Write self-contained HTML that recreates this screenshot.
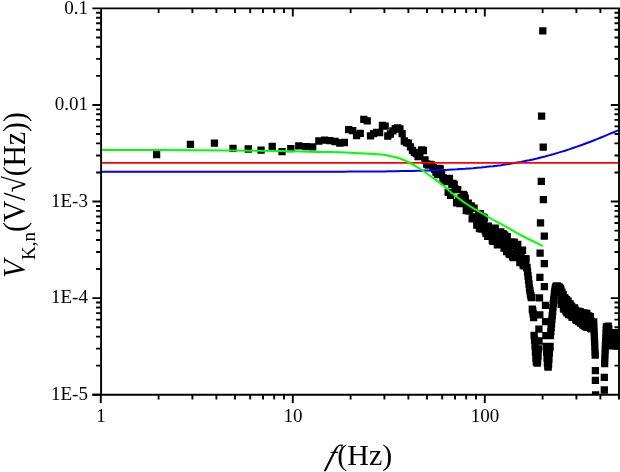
<!DOCTYPE html>
<html><head><meta charset="utf-8"><title>Noise spectrum</title>
<style>
html,body{margin:0;padding:0;background:#fff}
svg{display:block}
text{font-family:"Liberation Serif","Times New Roman",serif;fill:#000}
</style></head>
<body>
<svg width="620" height="472" viewBox="0 0 620 472">
<rect width="620" height="472" fill="#fff"/>
<defs><clipPath id="c"><rect x="101.1" y="8.35" width="518.9" height="386.45"/></clipPath></defs>
<g clip-path="url(#c)">
<path d="M152.97 150.85h7.3v7.3h-7.3zM186.78 140.75h7.3v7.3h-7.3zM210.77 139.45h7.3v7.3h-7.3zM229.37 144.65h7.3v7.3h-7.3zM244.58 145.35h7.3v7.3h-7.3zM257.43 146.45h7.3v7.3h-7.3zM268.57 142.85h7.3v7.3h-7.3zM278.39 147.95h7.3v7.3h-7.3zM287.17 144.95h7.3v7.3h-7.3zM295.12 142.15h7.3v7.3h-7.3zM302.38 143.05h7.3v7.3h-7.3zM309.05 143.15h7.3v7.3h-7.3zM315.23 137.35h7.3v7.3h-7.3zM320.98 136.45h7.3v7.3h-7.3zM326.36 136.95h7.3v7.3h-7.3zM331.42 137.85h7.3v7.3h-7.3zM336.18 139.35h7.3v7.3h-7.3zM340.69 138.85h7.3v7.3h-7.3zM344.97 126.05h7.3v7.3h-7.3zM349.04 126.95h7.3v7.3h-7.3zM352.92 131.85h7.3v7.3h-7.3zM356.62 129.75h7.3v7.3h-7.3zM360.17 115.75h7.3v7.3h-7.3zM363.58 117.25h7.3v7.3h-7.3zM366.85 132.15h7.3v7.3h-7.3zM369.99 130.05h7.3v7.3h-7.3zM373.03 128.85h7.3v7.3h-7.3zM375.95 128.85h7.3v7.3h-7.3zM378.78 121.65h7.3v7.3h-7.3zM381.51 122.55h7.3v7.3h-7.3zM384.16 132.35h7.3v7.3h-7.3zM386.73 130.35h7.3v7.3h-7.3zM389.22 127.15h7.3v7.3h-7.3zM391.63 124.95h7.3v7.3h-7.3zM393.98 124.35h7.3v7.3h-7.3zM396.27 125.35h7.3v7.3h-7.3zM398.49 130.05h7.3v7.3h-7.3zM400.66 137.35h7.3v7.3h-7.3zM402.77 138.95h7.3v7.3h-7.3zM404.83 139.55h7.3v7.3h-7.3zM406.84 143.15h7.3v7.3h-7.3zM408.80 146.65h7.3v7.3h-7.3zM410.72 148.65h7.3v7.3h-7.3zM412.59 149.85h7.3v7.3h-7.3zM414.42 152.85h7.3v7.3h-7.3zM416.22 152.35h7.3v7.3h-7.3zM417.97 146.35h7.3v7.3h-7.3zM419.69 146.85h7.3v7.3h-7.3zM421.37 156.35h7.3v7.3h-7.3zM423.03 160.35h7.3v7.3h-7.3zM424.65 161.35h7.3v7.3h-7.3zM426.23 160.85h7.3v7.3h-7.3zM427.79 161.35h7.3v7.3h-7.3zM429.32 163.85h7.3v7.3h-7.3zM430.82 165.35h7.3v7.3h-7.3zM432.30 168.35h7.3v7.3h-7.3zM433.75 170.85h7.3v7.3h-7.3zM435.18 164.85h7.3v7.3h-7.3zM436.58 165.15h7.3v7.3h-7.3zM437.96 170.35h7.3v7.3h-7.3zM439.31 174.35h7.3v7.3h-7.3zM440.65 177.35h7.3v7.3h-7.3zM441.96 177.85h7.3v7.3h-7.3zM443.25 177.17h7.3v7.3h-7.3zM444.52 188.69h7.3v7.3h-7.3zM445.78 174.66h7.3v7.3h-7.3zM447.01 191.69h7.3v7.3h-7.3zM448.23 180.67h7.3v7.3h-7.3zM449.43 179.79h7.3v7.3h-7.3zM450.61 180.98h7.3v7.3h-7.3zM451.78 185.57h7.3v7.3h-7.3zM452.93 199.12h7.3v7.3h-7.3zM454.06 186.07h7.3v7.3h-7.3zM455.18 197.05h7.3v7.3h-7.3zM456.29 199.99h7.3v7.3h-7.3zM457.38 193.90h7.3v7.3h-7.3zM458.45 199.66h7.3v7.3h-7.3zM459.52 190.80h7.3v7.3h-7.3zM460.57 191.80h7.3v7.3h-7.3zM461.60 194.41h7.3v7.3h-7.3zM462.62 206.96h7.3v7.3h-7.3zM463.64 201.32h7.3v7.3h-7.3zM464.63 199.47h7.3v7.3h-7.3zM465.62 207.44h7.3v7.3h-7.3zM466.60 204.88h7.3v7.3h-7.3zM467.56 202.22h7.3v7.3h-7.3zM468.51 215.13h7.3v7.3h-7.3zM469.46 214.38h7.3v7.3h-7.3zM470.39 204.41h7.3v7.3h-7.3zM471.31 213.50h7.3v7.3h-7.3zM472.22 213.26h7.3v7.3h-7.3zM473.12 221.36h7.3v7.3h-7.3zM474.01 220.16h7.3v7.3h-7.3zM474.90 210.55h7.3v7.3h-7.3zM475.77 224.93h7.3v7.3h-7.3zM476.63 210.00h7.3v7.3h-7.3zM477.49 216.53h7.3v7.3h-7.3zM478.33 225.37h7.3v7.3h-7.3zM479.17 213.35h7.3v7.3h-7.3zM480.00 221.09h7.3v7.3h-7.3zM480.82 214.47h7.3v7.3h-7.3zM481.64 227.09h7.3v7.3h-7.3zM482.44 229.75h7.3v7.3h-7.3zM483.24 226.67h7.3v7.3h-7.3zM484.03 232.80h7.3v7.3h-7.3zM484.81 222.52h7.3v7.3h-7.3zM485.59 231.80h7.3v7.3h-7.3zM486.36 230.51h7.3v7.3h-7.3zM487.12 230.73h7.3v7.3h-7.3zM487.87 228.40h7.3v7.3h-7.3zM488.62 236.46h7.3v7.3h-7.3zM489.36 237.82h7.3v7.3h-7.3zM490.10 230.36h7.3v7.3h-7.3zM490.83 235.19h7.3v7.3h-7.3zM491.55 224.58h7.3v7.3h-7.3zM492.26 236.97h7.3v7.3h-7.3zM492.97 236.37h7.3v7.3h-7.3zM493.68 241.09h7.3v7.3h-7.3zM494.38 240.44h7.3v7.3h-7.3zM495.07 229.66h7.3v7.3h-7.3zM495.75 232.24h7.3v7.3h-7.3zM496.43 239.31h7.3v7.3h-7.3zM497.11 228.20h7.3v7.3h-7.3zM497.78 235.51h7.3v7.3h-7.3zM498.44 230.17h7.3v7.3h-7.3zM499.10 230.09h7.3v7.3h-7.3zM499.76 230.15h7.3v7.3h-7.3zM500.41 244.45h7.3v7.3h-7.3zM501.05 231.56h7.3v7.3h-7.3zM501.69 233.68h7.3v7.3h-7.3zM502.32 237.21h7.3v7.3h-7.3zM502.95 247.98h7.3v7.3h-7.3zM503.58 232.92h7.3v7.3h-7.3zM504.20 240.07h7.3v7.3h-7.3zM504.81 243.16h7.3v7.3h-7.3zM505.42 250.18h7.3v7.3h-7.3zM506.03 249.92h7.3v7.3h-7.3zM506.63 250.97h7.3v7.3h-7.3zM507.23 238.32h7.3v7.3h-7.3zM507.82 241.98h7.3v7.3h-7.3zM508.41 241.04h7.3v7.3h-7.3zM509.00 252.98h7.3v7.3h-7.3zM509.58 253.89h7.3v7.3h-7.3zM510.16 238.56h7.3v7.3h-7.3zM510.73 239.34h7.3v7.3h-7.3zM511.30 240.67h7.3v7.3h-7.3zM511.86 241.15h7.3v7.3h-7.3zM512.42 247.39h7.3v7.3h-7.3zM512.98 250.52h7.3v7.3h-7.3zM513.54 243.02h7.3v7.3h-7.3zM514.09 240.79h7.3v7.3h-7.3zM514.63 247.42h7.3v7.3h-7.3zM515.18 246.63h7.3v7.3h-7.3zM515.72 252.07h7.3v7.3h-7.3zM516.25 258.94h7.3v7.3h-7.3zM516.79 255.94h7.3v7.3h-7.3zM517.31 252.39h7.3v7.3h-7.3zM517.84 255.44h7.3v7.3h-7.3zM518.36 257.25h7.3v7.3h-7.3zM518.88 246.58h7.3v7.3h-7.3zM519.40 261.40h7.3v7.3h-7.3zM519.91 260.58h7.3v7.3h-7.3zM520.42 262.11h7.3v7.3h-7.3zM520.93 261.77h7.3v7.3h-7.3zM521.43 254.95h7.3v7.3h-7.3zM521.93 256.78h7.3v7.3h-7.3zM522.43 255.19h7.3v7.3h-7.3zM522.93 263.43h7.3v7.3h-7.3zM523.42 264.35h7.3v7.3h-7.3zM523.91 268.35h7.3v7.3h-7.3zM524.39 272.35h7.3v7.3h-7.3zM524.88 276.35h7.3v7.3h-7.3zM525.36 280.35h7.3v7.3h-7.3zM525.84 284.35h7.3v7.3h-7.3zM526.31 287.35h7.3v7.3h-7.3zM526.78 290.35h7.3v7.3h-7.3zM527.25 292.35h7.3v7.3h-7.3zM527.72 293.85h7.3v7.3h-7.3zM528.18 293.85h7.3v7.3h-7.3zM528.65 305.55h7.3v7.3h-7.3zM529.11 307.35h7.3v7.3h-7.3zM529.56 310.35h7.3v7.3h-7.3zM530.02 313.85h7.3v7.3h-7.3zM530.47 331.85h7.3v7.3h-7.3zM530.92 336.35h7.3v7.3h-7.3zM531.37 342.35h7.3v7.3h-7.3zM531.81 348.35h7.3v7.3h-7.3zM532.25 354.35h7.3v7.3h-7.3zM532.69 358.35h7.3v7.3h-7.3zM533.13 358.35h7.3v7.3h-7.3zM533.57 359.35h7.3v7.3h-7.3zM534.00 357.35h7.3v7.3h-7.3zM534.43 352.35h7.3v7.3h-7.3zM534.86 345.35h7.3v7.3h-7.3zM535.29 337.35h7.3v7.3h-7.3zM539.15 27.15h7.3v7.3h-7.3zM537.95 112.55h7.3v7.3h-7.3zM537.65 177.75h7.3v7.3h-7.3zM536.85 219.15h7.3v7.3h-7.3zM536.45 249.55h7.3v7.3h-7.3zM536.25 273.75h7.3v7.3h-7.3zM535.85 294.25h7.3v7.3h-7.3zM536.15 311.15h7.3v7.3h-7.3zM535.25 325.55h7.3v7.3h-7.3zM539.55 143.55h7.3v7.3h-7.3zM539.75 196.05h7.3v7.3h-7.3zM540.65 232.45h7.3v7.3h-7.3zM540.65 260.05h7.3v7.3h-7.3zM540.75 283.05h7.3v7.3h-7.3zM541.85 301.65h7.3v7.3h-7.3zM541.95 318.05h7.3v7.3h-7.3zM542.25 331.95h7.3v7.3h-7.3zM542.61 342.85h7.3v7.3h-7.3zM543.00 348.35h7.3v7.3h-7.3zM543.39 354.35h7.3v7.3h-7.3zM543.77 359.35h7.3v7.3h-7.3zM544.16 362.85h7.3v7.3h-7.3zM544.54 363.35h7.3v7.3h-7.3zM544.92 360.35h7.3v7.3h-7.3zM545.30 355.35h7.3v7.3h-7.3zM545.67 349.35h7.3v7.3h-7.3zM546.05 344.35h7.3v7.3h-7.3zM546.42 342.85h7.3v7.3h-7.3zM546.79 331.85h7.3v7.3h-7.3zM547.16 327.85h7.3v7.3h-7.3zM547.53 323.85h7.3v7.3h-7.3zM547.90 319.85h7.3v7.3h-7.3zM548.26 315.85h7.3v7.3h-7.3zM548.62 311.85h7.3v7.3h-7.3zM548.99 307.85h7.3v7.3h-7.3zM549.35 303.85h7.3v7.3h-7.3zM549.70 299.85h7.3v7.3h-7.3zM550.06 296.35h7.3v7.3h-7.3zM550.42 293.35h7.3v7.3h-7.3zM550.77 290.35h7.3v7.3h-7.3zM551.12 287.85h7.3v7.3h-7.3zM551.48 285.85h7.3v7.3h-7.3zM551.82 284.35h7.3v7.3h-7.3zM552.17 283.35h7.3v7.3h-7.3zM552.52 282.85h7.3v7.3h-7.3zM552.86 282.35h7.3v7.3h-7.3zM553.21 282.35h7.3v7.3h-7.3zM553.55 282.35h7.3v7.3h-7.3zM553.89 282.73h7.3v7.3h-7.3zM554.23 282.92h7.3v7.3h-7.3zM554.57 284.23h7.3v7.3h-7.3zM554.91 283.95h7.3v7.3h-7.3zM555.24 286.79h7.3v7.3h-7.3zM555.58 283.56h7.3v7.3h-7.3zM555.91 283.63h7.3v7.3h-7.3zM556.24 284.64h7.3v7.3h-7.3zM556.57 284.70h7.3v7.3h-7.3zM556.90 289.46h7.3v7.3h-7.3zM557.23 285.72h7.3v7.3h-7.3zM557.55 300.70h7.3v7.3h-7.3zM557.88 297.01h7.3v7.3h-7.3zM558.20 288.52h7.3v7.3h-7.3zM558.53 290.57h7.3v7.3h-7.3zM558.85 292.93h7.3v7.3h-7.3zM559.17 293.90h7.3v7.3h-7.3zM559.49 290.95h7.3v7.3h-7.3zM559.80 304.12h7.3v7.3h-7.3zM560.12 305.38h7.3v7.3h-7.3zM560.44 298.44h7.3v7.3h-7.3zM560.75 299.40h7.3v7.3h-7.3zM561.06 293.98h7.3v7.3h-7.3zM561.37 294.71h7.3v7.3h-7.3zM561.68 298.10h7.3v7.3h-7.3zM561.99 297.11h7.3v7.3h-7.3zM562.30 307.38h7.3v7.3h-7.3zM562.61 296.40h7.3v7.3h-7.3zM562.92 295.90h7.3v7.3h-7.3zM563.22 309.14h7.3v7.3h-7.3zM563.52 303.58h7.3v7.3h-7.3zM563.83 297.46h7.3v7.3h-7.3zM564.13 304.48h7.3v7.3h-7.3zM564.43 297.39h7.3v7.3h-7.3zM564.73 304.77h7.3v7.3h-7.3zM565.03 311.01h7.3v7.3h-7.3zM565.32 310.73h7.3v7.3h-7.3zM565.62 308.86h7.3v7.3h-7.3zM565.92 300.91h7.3v7.3h-7.3zM566.21 303.00h7.3v7.3h-7.3zM566.50 300.30h7.3v7.3h-7.3zM566.79 311.03h7.3v7.3h-7.3zM567.09 307.08h7.3v7.3h-7.3zM567.38 311.50h7.3v7.3h-7.3zM567.66 303.78h7.3v7.3h-7.3zM567.95 302.51h7.3v7.3h-7.3zM568.24 312.42h7.3v7.3h-7.3zM568.53 313.61h7.3v7.3h-7.3zM568.81 313.16h7.3v7.3h-7.3zM569.10 312.90h7.3v7.3h-7.3zM569.38 313.20h7.3v7.3h-7.3zM569.66 312.49h7.3v7.3h-7.3zM569.94 304.69h7.3v7.3h-7.3zM570.22 309.43h7.3v7.3h-7.3zM570.50 307.01h7.3v7.3h-7.3zM570.78 304.32h7.3v7.3h-7.3zM571.06 304.64h7.3v7.3h-7.3zM571.33 306.79h7.3v7.3h-7.3zM571.61 306.72h7.3v7.3h-7.3zM571.88 313.42h7.3v7.3h-7.3zM572.16 315.83h7.3v7.3h-7.3zM572.43 309.95h7.3v7.3h-7.3zM572.70 316.20h7.3v7.3h-7.3zM572.97 316.51h7.3v7.3h-7.3zM573.24 316.67h7.3v7.3h-7.3zM573.51 309.33h7.3v7.3h-7.3zM573.78 307.56h7.3v7.3h-7.3zM574.05 307.79h7.3v7.3h-7.3zM574.32 307.62h7.3v7.3h-7.3zM574.58 307.86h7.3v7.3h-7.3zM574.85 314.55h7.3v7.3h-7.3zM575.11 317.91h7.3v7.3h-7.3zM575.38 317.70h7.3v7.3h-7.3zM575.64 312.61h7.3v7.3h-7.3zM575.90 315.76h7.3v7.3h-7.3zM576.16 317.91h7.3v7.3h-7.3zM576.42 307.97h7.3v7.3h-7.3zM576.68 316.40h7.3v7.3h-7.3zM576.94 319.34h7.3v7.3h-7.3zM577.20 318.43h7.3v7.3h-7.3zM577.45 318.20h7.3v7.3h-7.3zM577.71 313.67h7.3v7.3h-7.3zM577.97 309.04h7.3v7.3h-7.3zM578.22 319.19h7.3v7.3h-7.3zM578.47 311.32h7.3v7.3h-7.3zM578.73 319.67h7.3v7.3h-7.3zM578.98 321.02h7.3v7.3h-7.3zM579.23 312.74h7.3v7.3h-7.3zM579.48 312.95h7.3v7.3h-7.3zM579.73 321.49h7.3v7.3h-7.3zM579.98 319.44h7.3v7.3h-7.3zM580.23 309.53h7.3v7.3h-7.3zM580.48 309.19h7.3v7.3h-7.3zM580.72 309.46h7.3v7.3h-7.3zM580.97 322.17h7.3v7.3h-7.3zM581.22 321.41h7.3v7.3h-7.3zM581.46 309.63h7.3v7.3h-7.3zM581.71 321.90h7.3v7.3h-7.3zM581.95 322.99h7.3v7.3h-7.3zM582.19 319.48h7.3v7.3h-7.3zM582.43 313.22h7.3v7.3h-7.3zM582.68 317.49h7.3v7.3h-7.3zM582.92 310.30h7.3v7.3h-7.3zM583.16 309.87h7.3v7.3h-7.3zM583.39 323.58h7.3v7.3h-7.3zM583.63 320.00h7.3v7.3h-7.3zM583.87 317.60h7.3v7.3h-7.3zM584.11 323.76h7.3v7.3h-7.3zM584.35 315.88h7.3v7.3h-7.3zM584.58 323.57h7.3v7.3h-7.3zM584.82 323.23h7.3v7.3h-7.3zM585.05 312.34h7.3v7.3h-7.3zM585.28 313.04h7.3v7.3h-7.3zM585.52 313.81h7.3v7.3h-7.3zM585.75 313.12h7.3v7.3h-7.3zM585.98 319.85h7.3v7.3h-7.3zM586.21 313.65h7.3v7.3h-7.3zM586.44 316.74h7.3v7.3h-7.3zM586.67 312.95h7.3v7.3h-7.3zM586.90 324.76h7.3v7.3h-7.3zM587.13 316.74h7.3v7.3h-7.3zM587.36 318.87h7.3v7.3h-7.3zM587.59 321.27h7.3v7.3h-7.3zM587.82 325.01h7.3v7.3h-7.3zM588.04 319.32h7.3v7.3h-7.3zM588.27 325.21h7.3v7.3h-7.3zM588.49 321.13h7.3v7.3h-7.3zM588.72 321.81h7.3v7.3h-7.3zM588.94 321.99h7.3v7.3h-7.3zM589.16 318.41h7.3v7.3h-7.3zM589.39 321.69h7.3v7.3h-7.3zM589.61 320.10h7.3v7.3h-7.3zM589.83 320.25h7.3v7.3h-7.3zM590.05 318.35h7.3v7.3h-7.3zM590.27 323.35h7.3v7.3h-7.3zM590.49 328.35h7.3v7.3h-7.3zM590.71 333.35h7.3v7.3h-7.3zM590.93 338.35h7.3v7.3h-7.3zM591.15 343.35h7.3v7.3h-7.3zM591.36 348.35h7.3v7.3h-7.3zM591.58 351.35h7.3v7.3h-7.3zM591.75 367.05h7.3v7.3h-7.3zM591.75 376.65h7.3v7.3h-7.3zM591.95 391.35h7.3v7.3h-7.3zM600.65 386.35h7.3v7.3h-7.3zM600.65 373.75h7.3v7.3h-7.3zM600.99 359.85h7.3v7.3h-7.3zM601.19 354.35h7.3v7.3h-7.3zM601.38 350.35h7.3v7.3h-7.3zM601.57 346.35h7.3v7.3h-7.3zM601.76 342.35h7.3v7.3h-7.3zM601.95 338.35h7.3v7.3h-7.3zM602.14 334.35h7.3v7.3h-7.3zM602.34 330.35h7.3v7.3h-7.3zM602.53 326.35h7.3v7.3h-7.3zM602.72 323.35h7.3v7.3h-7.3zM602.90 340.40h7.3v7.3h-7.3zM603.09 323.50h7.3v7.3h-7.3zM603.28 331.36h7.3v7.3h-7.3zM603.47 338.80h7.3v7.3h-7.3zM603.66 333.99h7.3v7.3h-7.3zM603.84 326.92h7.3v7.3h-7.3zM604.03 332.78h7.3v7.3h-7.3zM604.22 333.96h7.3v7.3h-7.3zM604.40 340.11h7.3v7.3h-7.3zM604.59 322.61h7.3v7.3h-7.3zM604.77 334.11h7.3v7.3h-7.3zM604.96 324.99h7.3v7.3h-7.3zM605.14 325.65h7.3v7.3h-7.3zM605.33 339.86h7.3v7.3h-7.3zM605.51 332.45h7.3v7.3h-7.3zM605.69 336.94h7.3v7.3h-7.3zM605.88 340.53h7.3v7.3h-7.3zM606.06 342.10h7.3v7.3h-7.3zM606.24 334.46h7.3v7.3h-7.3zM606.42 337.97h7.3v7.3h-7.3zM606.60 335.77h7.3v7.3h-7.3zM606.78 335.91h7.3v7.3h-7.3zM606.96 339.46h7.3v7.3h-7.3zM607.14 334.65h7.3v7.3h-7.3zM607.32 336.35h7.3v7.3h-7.3zM607.50 335.19h7.3v7.3h-7.3zM607.68 342.24h7.3v7.3h-7.3zM607.86 339.57h7.3v7.3h-7.3zM608.04 341.85h7.3v7.3h-7.3zM608.22 342.24h7.3v7.3h-7.3zM608.39 331.06h7.3v7.3h-7.3zM608.57 336.90h7.3v7.3h-7.3zM608.75 342.24h7.3v7.3h-7.3zM608.92 341.52h7.3v7.3h-7.3zM609.10 329.56h7.3v7.3h-7.3zM609.27 329.43h7.3v7.3h-7.3zM609.45 334.44h7.3v7.3h-7.3zM609.62 329.12h7.3v7.3h-7.3zM609.80 330.78h7.3v7.3h-7.3zM609.97 329.13h7.3v7.3h-7.3zM610.14 339.05h7.3v7.3h-7.3zM610.32 340.86h7.3v7.3h-7.3zM610.49 342.00h7.3v7.3h-7.3zM610.66 329.72h7.3v7.3h-7.3zM610.83 339.86h7.3v7.3h-7.3zM611.01 338.88h7.3v7.3h-7.3zM611.18 329.61h7.3v7.3h-7.3zM611.35 341.90h7.3v7.3h-7.3zM611.52 342.32h7.3v7.3h-7.3zM611.69 330.48h7.3v7.3h-7.3zM611.86 342.28h7.3v7.3h-7.3zM612.03 333.54h7.3v7.3h-7.3zM612.20 335.38h7.3v7.3h-7.3zM612.37 342.35h7.3v7.3h-7.3zM612.54 341.44h7.3v7.3h-7.3zM612.70 329.79h7.3v7.3h-7.3zM612.87 334.22h7.3v7.3h-7.3zM613.04 335.98h7.3v7.3h-7.3zM613.21 332.41h7.3v7.3h-7.3zM613.37 330.18h7.3v7.3h-7.3zM613.54 332.03h7.3v7.3h-7.3zM613.71 339.96h7.3v7.3h-7.3zM613.87 328.96h7.3v7.3h-7.3zM614.04 336.78h7.3v7.3h-7.3zM614.20 334.40h7.3v7.3h-7.3zM614.37 328.96h7.3v7.3h-7.3zM614.53 332.27h7.3v7.3h-7.3zM614.70 338.19h7.3v7.3h-7.3zM614.86 335.91h7.3v7.3h-7.3zM615.03 329.09h7.3v7.3h-7.3zM615.19 342.34h7.3v7.3h-7.3zM615.35 340.92h7.3v7.3h-7.3z" fill="#000"/>
<path d="M101.0 171.8 L105.0 171.8 L109.0 171.8 L113.0 171.8 L117.0 171.8 L121.0 171.8 L125.0 171.8 L129.0 171.8 L133.0 171.8 L137.0 171.8 L141.0 171.8 L145.0 171.8 L149.0 171.8 L153.0 171.8 L157.0 171.8 L161.0 171.8 L165.0 171.8 L169.0 171.8 L173.0 171.8 L177.0 171.8 L181.0 171.8 L185.0 171.8 L189.0 171.8 L193.0 171.8 L197.0 171.8 L201.0 171.8 L205.0 171.8 L209.0 171.8 L213.0 171.8 L217.0 171.8 L221.0 171.8 L225.0 171.8 L229.0 171.8 L233.0 171.8 L237.0 171.8 L241.0 171.8 L245.0 171.8 L249.0 171.8 L253.0 171.8 L257.0 171.8 L261.0 171.8 L265.0 171.8 L269.0 171.8 L273.0 171.8 L277.0 171.8 L281.0 171.8 L285.0 171.8 L289.0 171.8 L293.0 171.8 L297.0 171.8 L301.0 171.8 L305.0 171.8 L309.0 171.8 L313.0 171.8 L317.0 171.8 L321.0 171.7 L325.0 171.7 L329.0 171.7 L333.0 171.7 L337.0 171.7 L341.0 171.7 L345.0 171.7 L349.0 171.6 L353.0 171.6 L357.0 171.6 L361.0 171.6 L365.0 171.5 L369.0 171.5 L373.0 171.5 L377.0 171.4 L381.0 171.4 L385.0 171.4 L389.0 171.3 L393.0 171.3 L397.0 171.2 L401.0 171.1 L405.0 171.1 L409.0 171.0 L413.0 170.9 L417.0 170.8 L421.0 170.7 L425.0 170.6 L429.0 170.5 L433.0 170.4 L437.0 170.2 L441.0 170.1 L445.0 169.9 L449.0 169.7 L453.0 169.5 L457.0 169.3 L461.0 169.0 L465.0 168.8 L469.0 168.5 L473.0 168.2 L477.0 167.8 L481.0 167.5 L485.0 167.1 L489.0 166.6 L493.0 166.2 L497.0 165.7 L501.0 165.2 L505.0 164.6 L509.0 164.0 L513.0 163.3 L517.0 162.6 L521.0 161.9 L525.0 161.1 L529.0 160.3 L533.0 159.4 L537.0 158.5 L541.0 157.5 L545.0 156.5 L549.0 155.4 L553.0 154.3 L557.0 153.1 L561.0 151.9 L565.0 150.7 L569.0 149.4 L573.0 148.0 L577.0 146.6 L581.0 145.2 L585.0 143.7 L589.0 142.2 L593.0 140.7 L597.0 139.1 L601.0 137.5 L605.0 135.9 L609.0 134.2 L613.0 132.5 L617.0 130.8 L621.0 129.1" fill="none" stroke="#0000ff" stroke-width="2" stroke-linejoin="round"/>
<path d="M101 162.9H620" fill="none" stroke="#ff0000" stroke-width="1.7"/>
<path d="M101.0 150.0C117.5 150.0 170.2 150.0 200.0 150.2C229.8 150.4 260.0 150.7 280.0 151.0C300.0 151.3 310.0 151.7 320.0 151.9C330.0 152.1 333.3 152.1 340.0 152.3C346.7 152.5 353.6 152.9 360.0 153.2C366.4 153.5 373.7 153.7 378.7 154.2C383.7 154.7 386.4 155.3 390.0 156.0C393.6 156.7 396.7 157.3 400.0 158.5C403.3 159.7 406.4 161.1 410.0 163.0C413.6 164.9 418.1 167.5 421.9 170.0C425.7 172.5 430.0 175.8 433.0 178.0C436.0 180.2 437.6 181.0 440.0 182.9C442.4 184.8 445.6 187.6 447.7 189.4C449.8 191.2 449.9 191.6 452.9 193.9C455.9 196.2 461.5 200.6 465.8 203.5C470.1 206.4 474.4 208.7 478.7 211.3C483.0 213.9 487.3 216.6 491.6 219.0C495.9 221.4 499.5 223.1 504.5 225.8C509.5 228.6 515.2 232.1 521.6 235.5C528.0 238.9 539.4 244.3 542.9 246.1" fill="none" stroke="#00ff00" stroke-width="2" stroke-linejoin="round"/>
</g>
<path d="M101.1 8.35H619.0V399.1M101.1 8.35V394.8M92.39999999999999 394.8H619.0" fill="none" stroke="#000" stroke-width="1.9"/>
<path d="M100.80 394.80v8.2M158.60 394.80v4.6M158.60 8.35v4.6M192.41 394.80v4.6M192.41 8.35v4.6M216.40 394.80v4.6M216.40 8.35v4.6M235.00 394.80v4.6M235.00 8.35v4.6M250.21 394.80v4.6M250.21 8.35v4.6M263.06 394.80v4.6M263.06 8.35v4.6M274.19 394.80v4.6M274.19 8.35v4.6M284.01 394.80v4.6M284.01 8.35v4.6M292.80 394.80v8.2M292.80 8.35v8.2M350.60 394.80v4.6M350.60 8.35v4.6M384.41 394.80v4.6M384.41 8.35v4.6M408.40 394.80v4.6M408.40 8.35v4.6M427.00 394.80v4.6M427.00 8.35v4.6M442.21 394.80v4.6M442.21 8.35v4.6M455.06 394.80v4.6M455.06 8.35v4.6M466.19 394.80v4.6M466.19 8.35v4.6M476.01 394.80v4.6M476.01 8.35v4.6M484.80 394.80v8.2M484.80 8.35v8.2M542.60 394.80v4.6M542.60 8.35v4.6M576.41 394.80v4.6M576.41 8.35v4.6M600.40 394.80v4.6M600.40 8.35v4.6M619.00 394.80v4.6M619.00 8.35v4.6M101.10 8.35h-8.7M101.10 12.77h-5.0M619.00 12.77h-4.5M101.10 17.71h-5.0M619.00 17.71h-4.5M101.10 23.31h-5.0M619.00 23.31h-4.5M101.10 29.78h-5.0M619.00 29.78h-4.5M101.10 37.43h-5.0M619.00 37.43h-4.5M101.10 46.79h-5.0M619.00 46.79h-4.5M101.10 58.86h-5.0M619.00 58.86h-4.5M101.10 75.87h-5.0M619.00 75.87h-4.5M101.10 104.95h-8.7M619.00 104.95h-8.2M101.10 109.37h-5.0M619.00 109.37h-4.5M101.10 114.31h-5.0M619.00 114.31h-4.5M101.10 119.91h-5.0M619.00 119.91h-4.5M101.10 126.38h-5.0M619.00 126.38h-4.5M101.10 134.03h-5.0M619.00 134.03h-4.5M101.10 143.39h-5.0M619.00 143.39h-4.5M101.10 155.46h-5.0M619.00 155.46h-4.5M101.10 172.47h-5.0M619.00 172.47h-4.5M101.10 201.55h-8.7M619.00 201.55h-8.2M101.10 205.97h-5.0M619.00 205.97h-4.5M101.10 210.91h-5.0M619.00 210.91h-4.5M101.10 216.51h-5.0M619.00 216.51h-4.5M101.10 222.98h-5.0M619.00 222.98h-4.5M101.10 230.63h-5.0M619.00 230.63h-4.5M101.10 239.99h-5.0M619.00 239.99h-4.5M101.10 252.06h-5.0M619.00 252.06h-4.5M101.10 269.07h-5.0M619.00 269.07h-4.5M101.10 298.15h-8.7M619.00 298.15h-8.2M101.10 302.57h-5.0M619.00 302.57h-4.5M101.10 307.51h-5.0M619.00 307.51h-4.5M101.10 313.11h-5.0M619.00 313.11h-4.5M101.10 319.58h-5.0M619.00 319.58h-4.5M101.10 327.23h-5.0M619.00 327.23h-4.5M101.10 336.59h-5.0M619.00 336.59h-4.5M101.10 348.66h-5.0M619.00 348.66h-4.5M101.10 365.67h-5.0M619.00 365.67h-4.5M101.10 394.75h-8.7" fill="none" stroke="#000" stroke-width="1.9"/>
<g font-size="19px"><text x="87.9" y="13.6" text-anchor="end">0.1</text><text x="87.9" y="110.2" text-anchor="end">0.01</text><text x="87.9" y="206.8" text-anchor="end">1E-3</text><text x="87.9" y="303.4" text-anchor="end">1E-4</text><text x="87.9" y="400.1" text-anchor="end">1E-5</text><text x="101.1" y="421.6" text-anchor="middle">1</text><text x="293.1" y="421.6" text-anchor="middle">10</text><text x="485.1" y="421.6" text-anchor="middle">100</text></g>
<text transform="translate(325.2,464.5) skewX(-18)" font-size="29px" font-style="italic">f</text><text transform="translate(337.3,464.5) scale(1.035,1)" font-size="29px">(Hz)</text>
<text transform="translate(25.0,278) rotate(-90) scale(1,1.04)" font-size="29.6px"><tspan font-style="italic">V</tspan><tspan font-size="19px" dy="10">K,n</tspan><tspan dy="-10">(V/√(Hz))</tspan></text>
</svg>
</body></html>
